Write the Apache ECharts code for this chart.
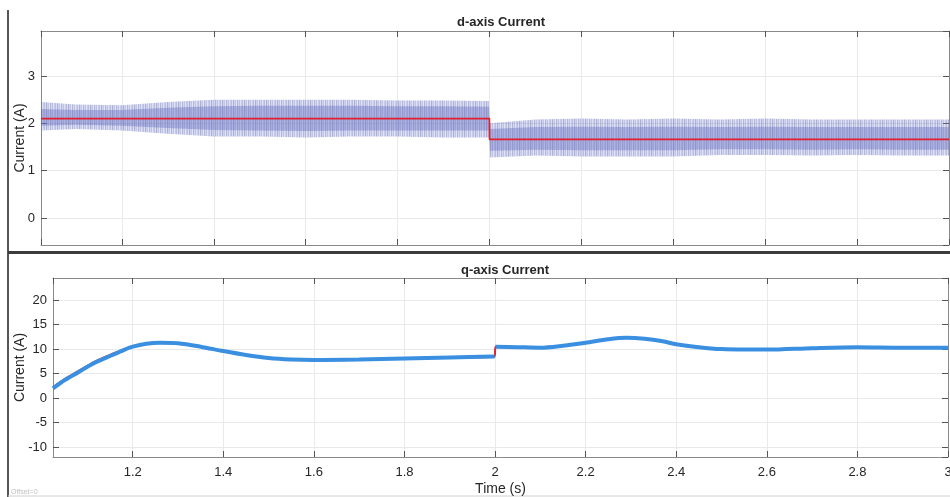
<!DOCTYPE html>
<html><head><meta charset="utf-8">
<script src="https://cdn.jsdelivr.net/npm/echarts@6/dist/echarts.min.js"></script>
<style>html,body{margin:0;padding:0;background:#fff}#c{width:950px;height:497px}</style>
</head><body><div id="c"></div>
<script>
// ---- d-axis current (noisy measured signal shown as its envelope, plus reference) ----
const dTime      = [1.024, 1.1, 1.2, 1.3, 1.4, 1.5, 1.6, 1.7, 1.8, 1.9, 1.999, 2.001, 2.1, 2.2, 2.3, 2.4, 2.5, 2.6, 2.7, 2.8, 2.9, 3.0];
const dUpper     = [2.45, 2.40, 2.38, 2.45, 2.50, 2.50, 2.50, 2.50, 2.48, 2.48, 2.47, 2.00, 2.08, 2.10, 2.08, 2.10, 2.08, 2.10, 2.08, 2.08, 2.08, 2.08];
const dLower     = [1.85, 1.88, 1.85, 1.78, 1.72, 1.72, 1.70, 1.72, 1.72, 1.70, 1.70, 1.28, 1.32, 1.30, 1.30, 1.30, 1.33, 1.33, 1.32, 1.33, 1.32, 1.32];
const dCoreUpper = [2.30, 2.28, 2.28, 2.33, 2.36, 2.37, 2.37, 2.37, 2.36, 2.36, 2.35, 1.88, 1.92, 1.93, 1.92, 1.93, 1.92, 1.93, 1.92, 1.92, 1.92, 1.92];
const dCoreLower = [1.95, 1.97, 1.95, 1.90, 1.86, 1.85, 1.84, 1.85, 1.85, 1.85, 1.85, 1.42, 1.44, 1.43, 1.43, 1.43, 1.45, 1.45, 1.44, 1.45, 1.44, 1.44];
const dRefTime   = [1.024, 2.0, 2.0, 3.0];
const dRef       = [2.10, 2.10, 1.66, 1.66];

// ---- q-axis current ----
const qTime    = [1.024, 1.05, 1.08, 1.1, 1.12, 1.15, 1.18, 1.2, 1.23, 1.26, 1.3, 1.35, 1.4, 1.45, 1.5, 1.55, 1.6, 1.7, 1.8, 1.9, 1.999, 2.001, 2.05, 2.1, 2.15, 2.2, 2.25, 2.29, 2.33, 2.37, 2.4, 2.45, 2.5, 2.55, 2.6, 2.7, 2.8, 2.9, 3.0];
const qCurrent = [2.0, 3.7, 5.3, 6.4, 7.4, 8.6, 9.8, 10.5, 11.1, 11.3, 11.2, 10.5, 9.6, 8.8, 8.2, 7.9, 7.8, 7.9, 8.1, 8.3, 8.5, 10.5, 10.4, 10.3, 10.7, 11.3, 12.0, 12.3, 12.1, 11.6, 11.0, 10.4, 10.0, 9.9, 9.9, 10.2, 10.4, 10.3, 10.3];
const qRef     = [2.2, 3.9, 5.5, 6.6, 7.6, 8.8, 9.9, 10.6, 11.1, 11.3, 11.2, 10.5, 9.6, 8.8, 8.2, 7.9, 7.8, 7.9, 8.1, 8.3, 8.5, 10.5, 10.4, 10.3, 10.7, 11.3, 12.0, 12.3, 12.1, 11.6, 11.0, 10.4, 10.0, 9.9, 9.9, 10.2, 10.4, 10.3, 10.3];
const stepTime = 2.0;

const xRange = [1.024, 3.0];
const dYRange = [-0.57, 3.95];
const qYRange = [-12, 24.5];

const pair = (xs, ys) => xs.map((x, i) => [x, ys[i]]);
const qBlue = [];
qTime.forEach((t, i) => {
  if (i > 0 && qTime[i - 1] < stepTime && t > stepTime) qBlue.push([stepTime, null]);
  qBlue.push([t, qCurrent[i]]);
});

// fine vertical-hatch pattern to mimic the dense oscillation texture
function makeHatch() {
  const c = document.createElement('canvas');
  c.width = 11; c.height = 4;
  const g = c.getContext('2d');
  const alphas = [0.45, 0.22, 0.55, 0.3, 0.4, 0.18, 0.5, 0.28, 0.42, 0.2, 0.35];
  alphas.forEach((a, i) => { g.fillStyle = 'rgba(100,110,192,' + a + ')'; g.fillRect(i, 0, 1, 4); });
  return c;
}
const hatch = makeHatch();

function band(up, lo, fill, z) {
  return {
    type: 'custom', xAxisIndex: 0, yAxisIndex: 0, silent: true, z: z, clip: true,
    data: dTime.map((t, i) => [t, up[i], lo[i]]),
    renderItem: (params, api) => {
      if (params.dataIndex !== 0) return null;
      const pts = [];
      for (let i = 0; i < dTime.length; i++) pts.push(api.coord([dTime[i], up[i]]));
      for (let i = dTime.length - 1; i >= 0; i--) pts.push(api.coord([dTime[i], lo[i]]));
      return { type: 'polygon', shape: { points: pts }, style: { fill: fill } };
    }
  };
}

const FONT = 'Liberation Sans, Arial, Helvetica, sans-serif';
const AX = '#8a8a8a', TXT = '#262626', GRIDC = '#e9e9e9';

function mkX(gi, pos, showLabels) {
  const main = pos === 'bottom';
  return {
    type: 'value', gridIndex: gi, position: pos, min: xRange[0], max: xRange[1], splitNumber: 10,
    axisLine: { show: true, onZero: false, lineStyle: { color: AX, width: 1 } },
    axisTick: { show: true, inside: true, length: 6, lineStyle: { color: '#555' } },
    axisLabel: { show: showLabels, showMinLabel: false, showMaxLabel: true, color: TXT, fontSize: 13, fontFamily: FONT, margin: 9 },
    splitLine: { show: main, lineStyle: { color: GRIDC, width: 1 } },
    name: (gi === 1 && main) ? 'Time (s)' : '', nameLocation: 'middle', nameGap: 25,
    nameMoveOverlap: false,
    nameTextStyle: { color: TXT, fontSize: 14, fontFamily: FONT }
  };
}
function mkY(gi, pos, range, split, showLabels, nameGap) {
  const main = pos === 'left';
  return {
    type: 'value', gridIndex: gi, position: pos, min: range[0], max: range[1], splitNumber: split,
    axisLine: { show: true, onZero: false, lineStyle: { color: AX, width: 1 } },
    axisTick: { show: true, inside: true, length: 6, lineStyle: { color: '#555' } },
    axisLabel: { show: showLabels, showMinLabel: false, showMaxLabel: false, color: TXT, fontSize: 13, fontFamily: FONT, margin: 6 },
    splitLine: { show: main, lineStyle: { color: GRIDC, width: 1 } },
    name: main ? 'Current (A)' : '', nameLocation: 'middle', nameGap: nameGap,
    nameMoveOverlap: false,
    nameTextStyle: { color: TXT, fontSize: 14, fontFamily: FONT }
  };
}

const chart = echarts.init(document.getElementById('c'), null, { renderer: 'canvas' });
chart.setOption({
  animation: false,
  backgroundColor: '#ffffff',
  title: [
    { text: 'd-axis Current', left: 496, top: 11, textAlign: 'center',
      textStyle: { fontSize: 13, fontWeight: 'bold', color: TXT, fontFamily: FONT } },
    { text: 'q-axis Current', left: 500, top: 259, textAlign: 'center',
      textStyle: { fontSize: 13, fontWeight: 'bold', color: TXT, fontFamily: FONT } }
  ],
  grid: [
    { left: 41, top: 31, width: 908, height: 214, outerBoundsMode: 'none', containLabel: false },
    { left: 53, top: 278, width: 895, height: 179, outerBoundsMode: 'none', containLabel: false }
  ],
  xAxis: [mkX(0, 'bottom', false), mkX(0, 'top', false), mkX(1, 'bottom', true), mkX(1, 'top', false)],
  yAxis: [mkY(0, 'left', dYRange, 4, true, 14), mkY(0, 'right', dYRange, 4, false, 0),
          mkY(1, 'left', qYRange, 7, true, 26), mkY(1, 'right', qYRange, 7, false, 0)],
  series: [
    band(dUpper, dLower, { image: hatch, repeat: 'repeat' }, 2),
    band(dCoreUpper, dCoreLower, 'rgba(100,110,192,0.4)', 3),
    { type: 'line', xAxisIndex: 0, yAxisIndex: 0, symbol: 'none', z: 5,
      data: pair(dRefTime, dRef), lineStyle: { color: '#e0202e', width: 1.6 } },
    { type: 'line', xAxisIndex: 2, yAxisIndex: 2, symbol: 'none', z: 3, smooth: 0.3,
      data: pair(qTime, qRef), lineStyle: { color: '#e0202e', width: 2 } },
    { type: 'line', xAxisIndex: 2, yAxisIndex: 2, symbol: 'none', z: 4, smooth: 0.3, connectNulls: false,
      data: qBlue, lineStyle: { color: '#3a8fe0', width: 4 } }
  ],
  graphic: [
    { type: 'line', shape: { x1: 8, y1: 10, x2: 8, y2: 497 }, style: { stroke: '#1e1e1e', lineWidth: 1.5 }, silent: true },
    { type: 'rect', shape: { x: 8, y: 251, width: 942, height: 3 }, style: { fill: '#3c3c3c' }, silent: true },
    { type: 'line', shape: { x1: 8, y1: 496, x2: 950, y2: 496 }, style: { stroke: '#d0d0d0', lineWidth: 1 }, silent: true },
    { type: 'text', left: 11, top: 489, style: { text: 'Offset=0', fill: '#c0c0c0', fontSize: 7, fontFamily: FONT }, silent: true }
  ]
});
</script>
</body></html>
